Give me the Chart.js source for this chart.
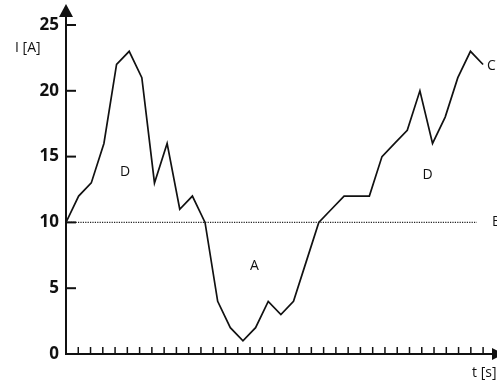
<!DOCTYPE html>
<html>
<head>
<meta charset="utf-8">
<script src="https://cdn.jsdelivr.net/npm/chart.js@4.4.0/dist/chart.umd.min.js"></script>
<style>
  html, body { margin: 0; padding: 0; background: #fff; }
  #wrap { position: relative; width: 497px; height: 385px; }
</style>
</head>
<body>
<div id="wrap"><canvas id="currentChart"></canvas></div>
<script>
// current I [A] read at each sample along t
const samples = [0, 1, 2, 3, 4, 5, 6, 7, 8, 9, 10, 11, 12, 13, 14, 15, 16,
                 17, 18, 19, 20, 21, 22, 23, 24, 25, 26, 27, 28, 29, 30, 31, 32, 33];
const current = [10, 12, 13, 16, 22, 23, 21, 13, 16, 11, 12, 10, 4, 2, 1, 2, 4,
                 3, 4, 7, 10, 11, 12, 12, 12, 15, 16, 17, 20, 16, 18, 21, 23, 22];
const threshold = 10;
const thresholdEnd = 32.5;
const currentTicks = [0, 5, 10, 15, 20, 25];
const timeTickCount = 34;

// region letters, placed in data units
const notes = [
    { text: "D", t: 4.67, i: 13.8, align: "center" },
    { text: "D", t: 28.6, i: 13.6, align: "center" },
    { text: "A", t: 14.9, i: 6.7, align: "center" },
    { text: "C", t: 33.3, i: 21.9, align: "left" },
    { text: "B", t: 33.7, i: 10, align: "left" }
];

const ink = "#111";

const axisDecor = {
    id: "axisDecor",
    afterDatasetsDraw(chart) {
        const { ctx, chartArea: a, scales: { x, y } } = chart;
        const x0 = x.getPixelForValue(0);
        const y0 = y.getPixelForValue(0);
        ctx.save();
        ctx.strokeStyle = ink;
        ctx.fillStyle = ink;

        // y axis with arrow
        ctx.lineWidth = 2;
        ctx.beginPath();
        ctx.moveTo(x0, y0 + 1);
        ctx.lineTo(x0, a.top - 10);
        ctx.stroke();
        ctx.beginPath();
        ctx.moveTo(x0, a.top - 21);
        ctx.lineTo(x0 - 7, a.top - 8);
        ctx.lineTo(x0 + 7, a.top - 8);
        ctx.closePath();
        ctx.fill();

        // t axis with arrow
        ctx.beginPath();
        ctx.moveTo(x0 - 1, y0);
        ctx.lineTo(a.right - 4, y0);
        ctx.stroke();
        ctx.beginPath();
        ctx.moveTo(a.right + 7, y0);
        ctx.lineTo(a.right - 5, y0 - 6);
        ctx.lineTo(a.right - 5, y0 + 6);
        ctx.closePath();
        ctx.fill();

        // inward tick marks
        y.ticks.forEach(tk => {
            if (tk.value <= 0) return;
            const py = y.getPixelForValue(tk.value);
            ctx.beginPath();
            ctx.moveTo(x0, py);
            ctx.lineTo(x0 + 10, py);
            ctx.stroke();
        });
        ctx.lineWidth = 1.5;
        x.ticks.forEach(tk => {
            const px = x.getPixelForValue(tk.value);
            ctx.beginPath();
            ctx.moveTo(px, y0);
            ctx.lineTo(px, y0 - 7);
            ctx.stroke();
        });

        // texts
        ctx.font = '14px "Open Sans"';
        ctx.textBaseline = "middle";
        notes.forEach(n => {
            ctx.textAlign = n.align;
            ctx.fillText(n.text, x.getPixelForValue(n.t), y.getPixelForValue(n.i));
        });
        ctx.textAlign = "left";
        ctx.fillText("I [A]", 15, a.top + 23);
        ctx.fillText("t [s]", 472, y0 + 19);
        ctx.restore();
    }
};

const ctx = document.getElementById("currentChart").getContext("2d");

const chart = new Chart(ctx, {
    type: "line",
    data: {
        datasets: [{
            data: samples.map((t, k) => ({ x: t, y: current[k] })),
            borderColor: ink,
            borderWidth: 1.7,
            pointRadius: 0,
            tension: 0,
            fill: false
        }, {
            data: [{ x: 0, y: threshold }, { x: thresholdEnd, y: threshold }],
            borderColor: "#222",
            borderWidth: 1.3,
            borderDash: [1.2, 1.2],
            pointRadius: 0,
            fill: false
        }]
    },
    options: {
        responsive: true,
        maintainAspectRatio: false,
        animation: false,
        events: [],
        layout: { padding: { top: 25, bottom: 31, left: 0, right: 0 } },
        plugins: {
            legend: { display: false },
            tooltip: { enabled: false }
        },
        scales: {
            x: {
                type: "linear",
                min: 0,
                max: 34.1,
                grid: { display: false, drawTicks: false },
                border: { display: false },
                ticks: { display: false },
                afterBuildTicks: scale => {
                    const step = samples[samples.length - 1] / timeTickCount;
                    scale.ticks = [];
                    for (let k = 1; k <= timeTickCount; k++) {
                        scale.ticks.push({ value: k * step });
                    }
                }
            },
            y: {
                min: 0,
                max: 25,
                grid: { display: false, drawTicks: false },
                border: { display: false },
                afterBuildTicks: scale => {
                    scale.ticks = currentTicks.map(v => ({ value: v }));
                },
                afterFit: scale => { scale.width = 66; },
                ticks: {
                    padding: 7,
                    color: ink,
                    font: { family: "Open Sans", size: 17, weight: "bold" }
                }
            }
        }
    },
    plugins: [axisDecor]
});
</script>
</body>
</html>
